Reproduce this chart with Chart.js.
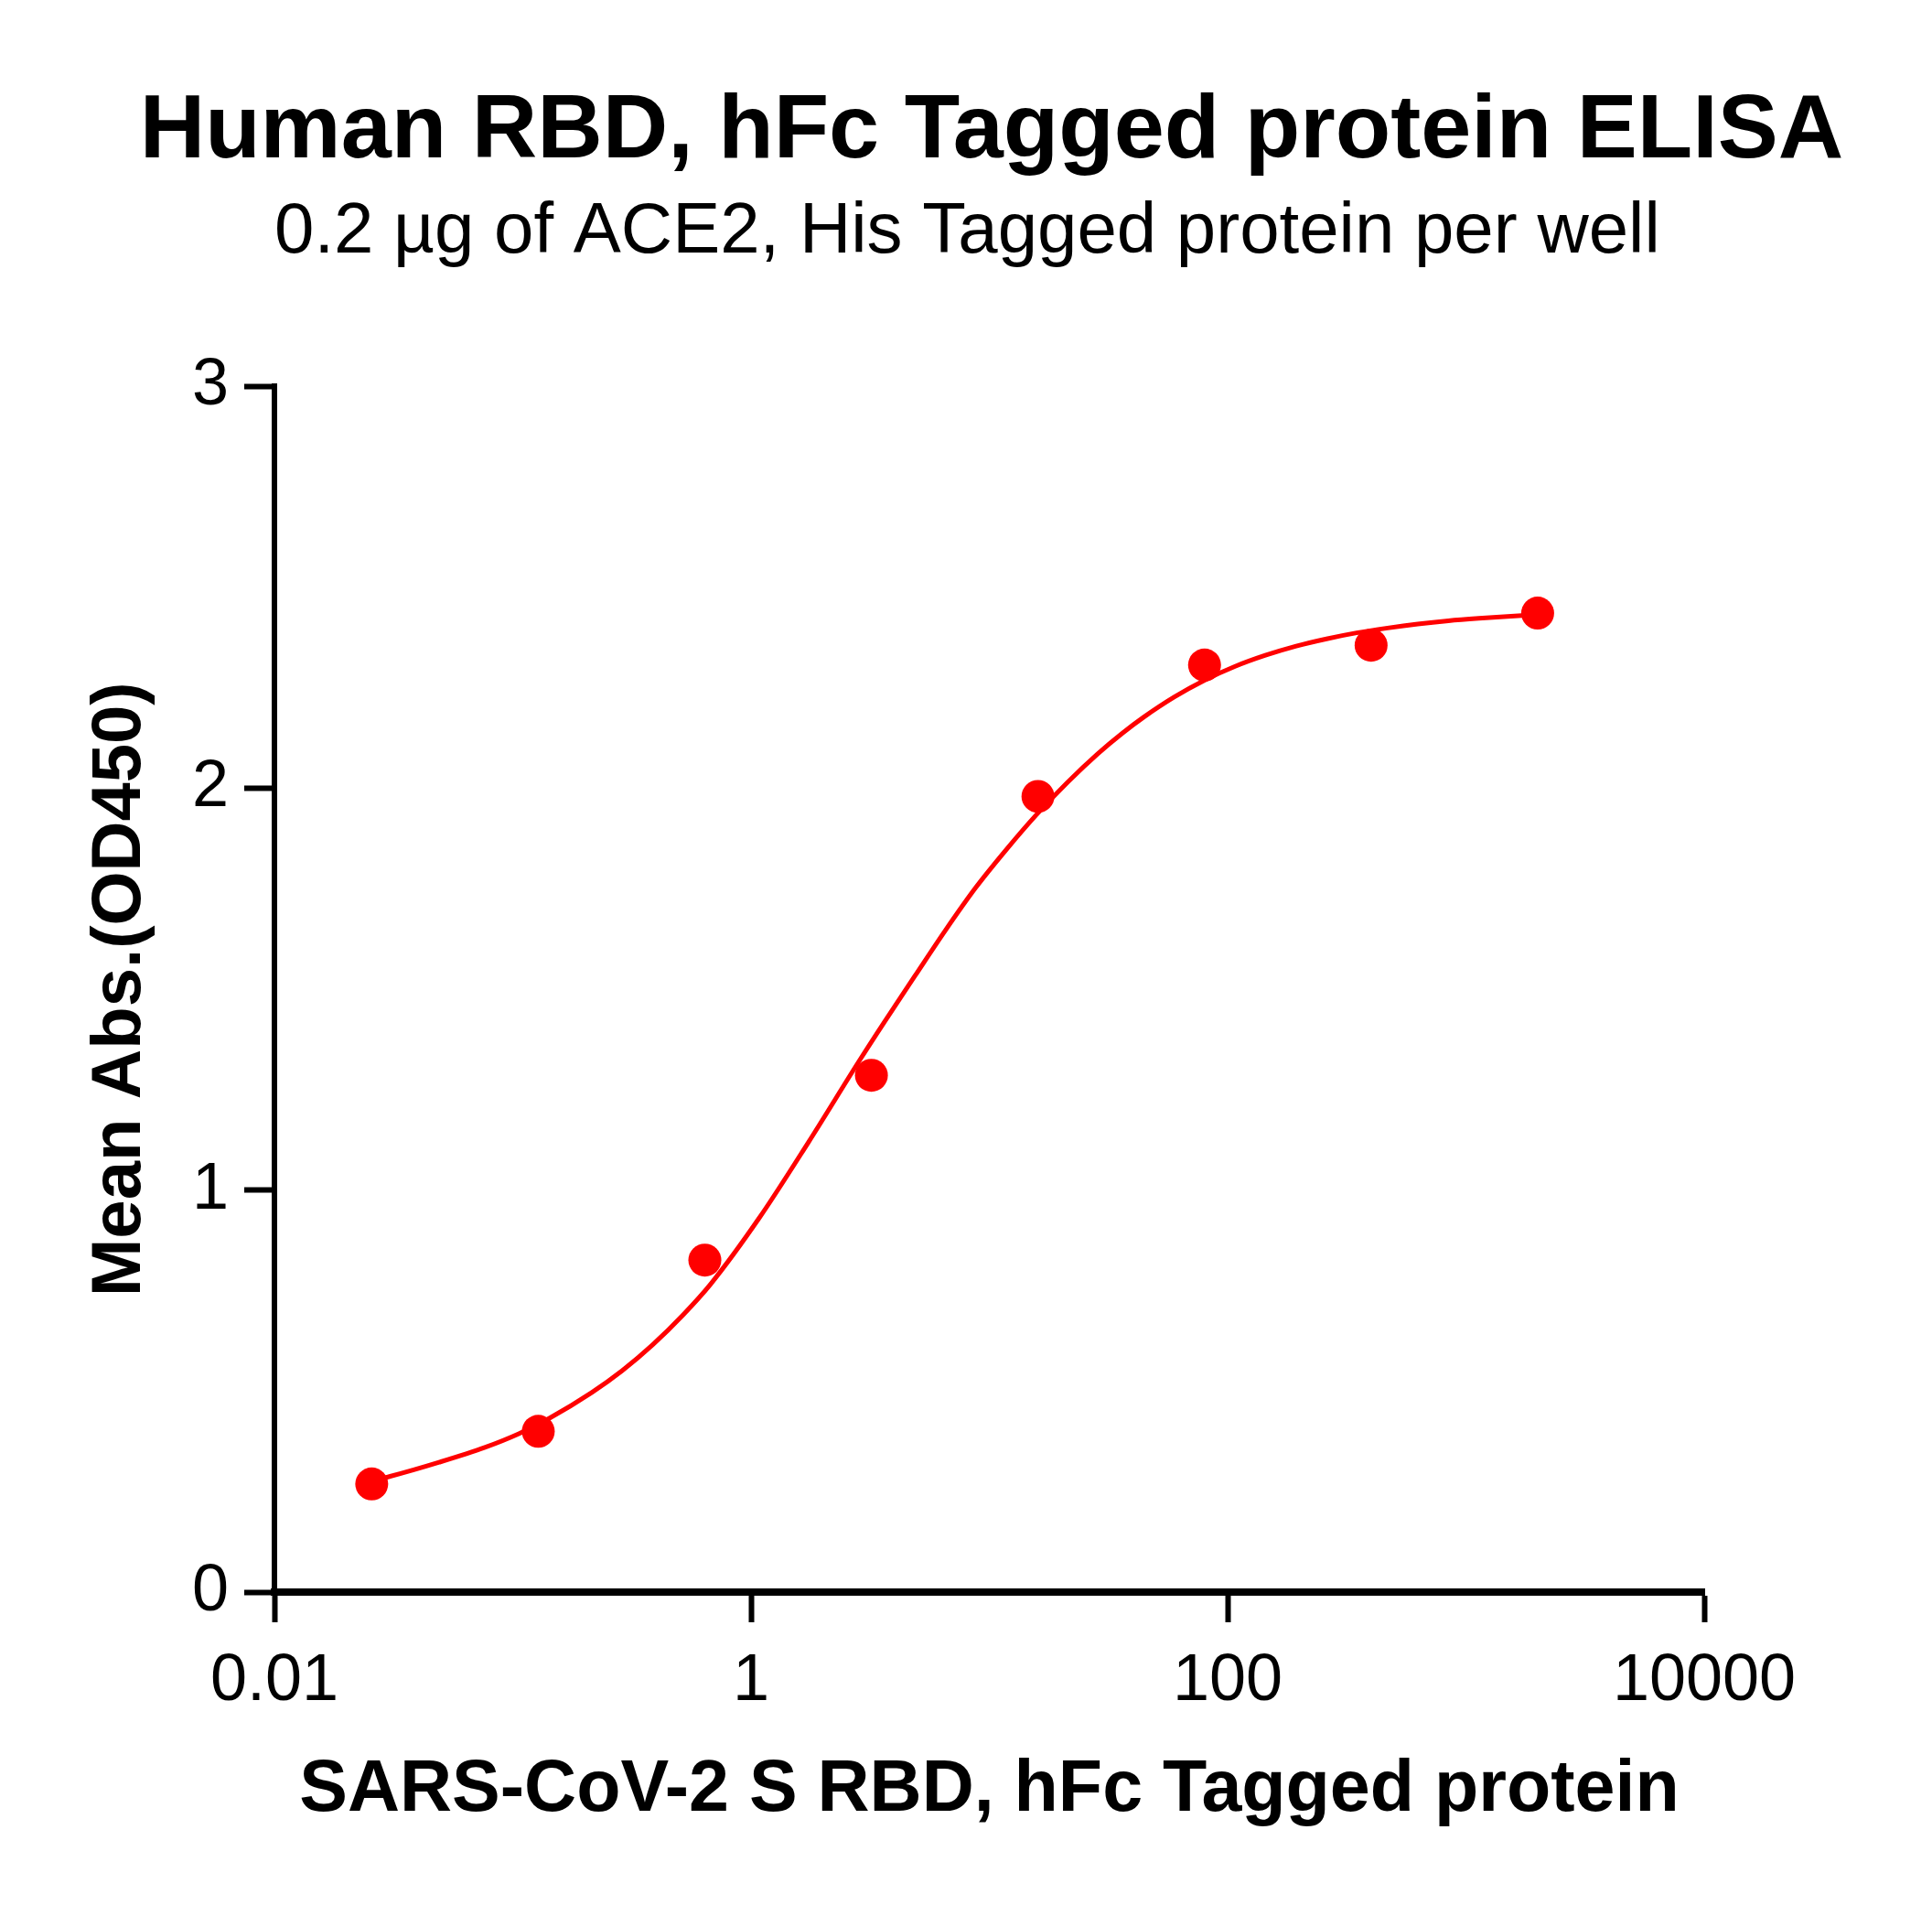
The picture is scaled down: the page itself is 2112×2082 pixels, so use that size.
<!DOCTYPE html>
<html>
<head>
<meta charset="utf-8">
<title>Human RBD, hFc Tagged protein ELISA</title>
<script src="https://cdn.jsdelivr.net/npm/chart.js@4.4.1/dist/chart.umd.min.js"></script>
<style>
  html, body { margin: 0; padding: 0; background: #fff; }
  canvas { display: block; }
</style>
</head>
<body>
<canvas id="elisaChart" width="2112" height="2082"></canvas>
<script>
// SARS-CoV-2 S RBD, hFc concentration (5-fold dilution series)
const concentrations = [0.0256, 0.128, 0.64, 3.2, 16, 80, 400, 2000];
const meanAbs = [0.269, 0.400, 0.826, 1.286, 1.980, 2.307, 2.356, 2.436];

// fitted curve
const fitConc = [0.0256, 0.0306, 0.0491, 0.0764, 0.106, 0.142, 0.214, 0.288, 0.386, 0.519, 0.676,
                 1.08, 1.74, 2.86, 3.63, 4.87, 6.53, 8.77, 11.8, 15.8, 21.2, 28.5, 36.1, 44.4,
                 59.6, 80, 107, 144, 194, 260, 348, 469, 628, 844, 1133, 1714, 2000];
const fitAbs = [0.277, 0.288, 0.323, 0.360, 0.394, 0.432, 0.496, 0.551, 0.615, 0.690, 0.766,
                0.930, 1.119, 1.324, 1.419, 1.533, 1.646, 1.753, 1.848, 1.935, 2.014, 2.086, 2.137, 2.177,
                2.227, 2.269, 2.303, 2.331, 2.354, 2.372, 2.387, 2.399, 2.409, 2.417, 2.423, 2.430, 2.432];

const xTickValues = [0.01, 1, 100, 10000];
const xTickLabels = ['0.01', '1', '100', '10000'];

const red = '#ff0000';

Chart.defaults.font.family = '"Liberation Sans", Arial, sans-serif';
Chart.defaults.color = '#000';

var ctx = document.getElementById('elisaChart');
var myChart = new Chart(ctx, {
    type: 'scatter',
    data: {
        datasets: [{
            label: 'Fit',
            data: fitConc.map((x, i) => ({ x: x, y: fitAbs[i] })),
            showLine: true,
            borderColor: red,
            borderWidth: 5,
            pointRadius: 0,
            cubicInterpolationMode: 'monotone',
            fill: false
        }, {
            label: 'Mean Abs.',
            data: concentrations.map((x, i) => ({ x: x, y: meanAbs[i] })),
            showLine: false,
            pointRadius: 18,
            pointBackgroundColor: red,
            pointBorderWidth: 0
        }]
    },
    options: {
        responsive: false,
        devicePixelRatio: 1,
        animation: false,
        layout: { padding: { left: 56, right: 0, top: 0, bottom: 0 } },
        plugins: {
            legend: { display: false },
            tooltip: { enabled: false },
            title: {
                display: true,
                text: 'Human RBD, hFc Tagged protein ELISA',
                font: { size: 99, weight: 'bold' },
                padding: { top: 85, bottom: 0 }
            },
            subtitle: {
                display: true,
                fullSize: false,
                align: 'start',
                text: '0.2 µg of ACE2, His Tagged protein per well',
                font: { size: 78 },
                padding: { top: 4, bottom: 121 }
            }
        },
        scales: {
            x: {
                type: 'logarithmic',
                position: 'bottom',
                min: 0.01,
                max: 10000,
                afterBuildTicks: s => { s.ticks = xTickValues.map(v => ({ value: v })); },
                afterFit: s => { s.height = 342; },
                ticks: {
                    callback: (v, i) => xTickLabels[i],
                    font: { size: 72 },
                    padding: 22,
                    maxRotation: 0,
                    autoSkip: false
                },
                grid: { drawOnChartArea: false, tickLength: 33, tickWidth: 6, tickColor: '#000' },
                border: { display: true, color: '#000', width: 8 },
                title: {
                    display: true,
                    text: 'SARS-CoV-2 S RBD, hFc Tagged protein',
                    font: { size: 79, weight: 'bold' },
                    padding: { top: 0, bottom: 77 }
                }
            },
            y: {
                position: 'left',
                min: 0,
                max: 3,
                afterFit: s => { s.width = 244; },
                ticks: { stepSize: 1, font: { size: 72 }, padding: 17 },
                grid: { drawOnChartArea: false, tickLength: 33, tickWidth: 6, tickColor: '#000' },
                border: { display: true, color: '#000', width: 6 },
                title: {
                    display: true,
                    text: 'Mean Abs.(OD450)',
                    font: { size: 76, weight: 'bold' },
                    padding: { top: 30, bottom: 0 }
                }
            },
            yRight: {
                position: 'right',
                display: true,
                afterFit: s => { s.width = 249; },
                ticks: { display: false },
                grid: { display: false },
                border: { display: false }
            }
        }
    }
});
</script>
</body>
</html>
